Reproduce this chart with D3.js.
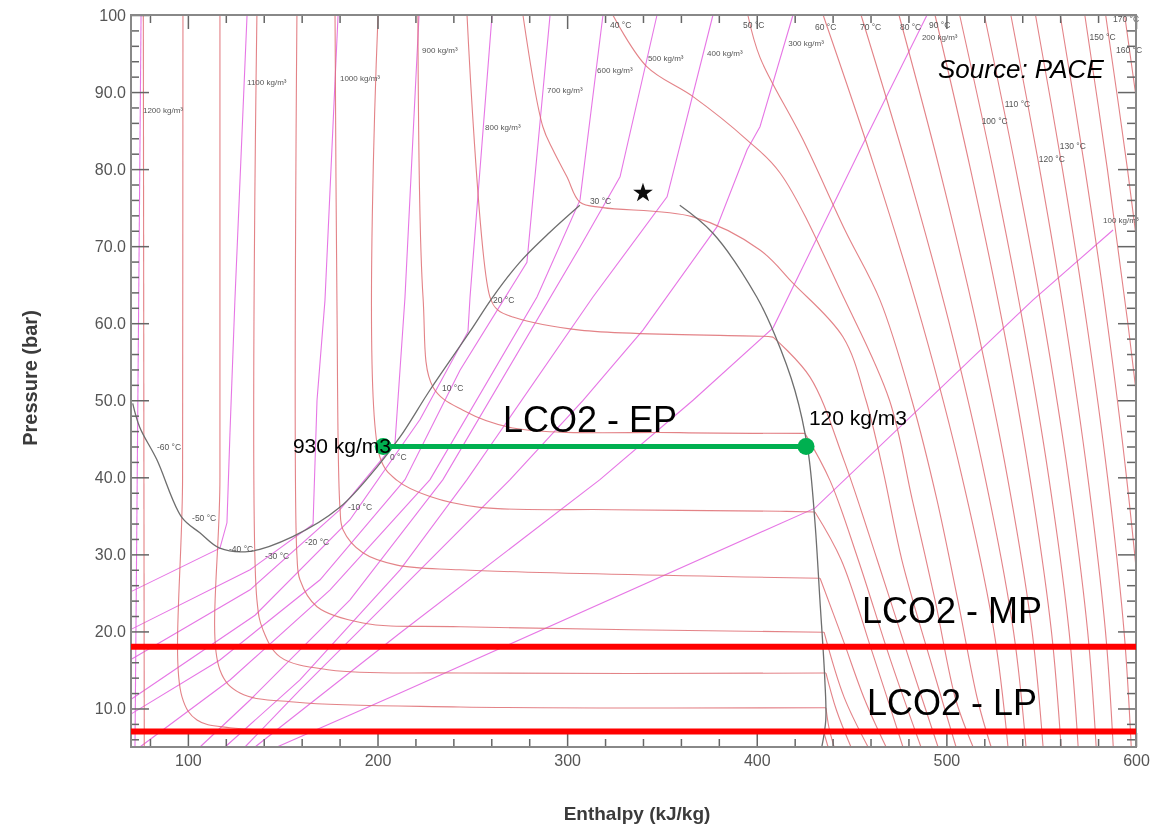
<!DOCTYPE html>
<html>
<head>
<meta charset="utf-8">
<script src="https://cdn.jsdelivr.net/npm/d3@7"></script>
<style>
  body { margin: 0; background: #fff; }
  svg { display: block; font-family: "Liberation Sans", Arial, sans-serif; }
</style>
</head>
<body>
<div id="chart"></div>
<script>
// ---- axis ticks ----
const hMajorTicks = [100, 200, 300, 400, 500, 600];
const pMajorTicks = [10, 20, 30, 40, 50, 60, 70, 80, 90, 100];

// ---- saturation curve (h kJ/kg, p bar) ----
const domeLiquid = [[70.9,49.6],[74.6,46.5],[83.6,42.3],[96.8,34.8],[106.3,32.8],[116.8,30.8],[132.7,30.4],
  [155.3,32.3],[180.1,36.1],[199.6,41.3],[211.8,45.2],[227.6,51.3],[248.7,58.9],[260.8,63.4],[275.0,67.9],
  [290.9,71.8],[306.7,75.3]];
const domeVapor = [[359.4,75.3],[376.8,71.7],[400.0,63.4],[409.5,58.5],[420.1,51.3],[427.0,43.5],[430.6,34.5],
  [433.3,24.1],[435.9,13.7],[436.4,8.5],[434.3,5.0]];
const criticalPoint = [340.0, 76.9];

// ---- isotherms ----
const coldEdge = [[76.5,100],[77.0,5]];
const lowTemps = [-50, -40, -30, -20, -10, 0, 10, 20];
const lowLiquidSide = [
  [[97.4,100],[97.2,40],[96.9,11.5],[104.8,8.5],[122.2,7.5],[211.9,7.0],[435.5,6.8]],
  [[116.9,100],[116.9,40],[116.9,15.0],[127.5,12.0],[157.5,10.8],[243.5,10.2],[436.5,10.1]],
  [[136.4,100],[136.4,24.1],[139.6,20.2],[148.6,16.7],[174.9,15.0],[243.5,14.6],[436.5,14.6]],
  [[157.5,100],[157.5,29.9],[159.1,26.7],[168.1,23.2],[192.3,21.1],[243.5,20.6],[435.5,19.9]],
  [[177.6,100],[178.6,63.0],[180.2,36.1],[181.8,33.2],[192.3,30.2],[210.3,28.6],[243.5,28.0],[433.4,26.9]],
  [[200.3,100],[201.3,42.6],[210.3,39.6],[227.7,37.5],[254.0,36.1],[324.2,35.8],[412.3,35.6],[430.7,35.5]],
  [[221.3,100],[224.0,63.4],[229.3,51.7],[245.1,48.7],[271.4,46.4],[359.5,45.8],[425.4,45.7]],
  [[247.2,100],[259.3,63.4],[263.5,61.7],[271.4,60.8],[306.8,59.1],[403.3,58.3],[408.6,58.2]]
];
const lowVaporSide = [
  [[435.5,6.8],[437.6,5]],
  [[436.5,10.1],[438.1,7.5],[440.8,5]],
  [[436.5,14.6],[442.0,9.8],[449.7,5]],
  [[435.5,19.9],[446.0,11.5],[458.7,5]],
  [[433.4,26.9],[445.5,18.9],[457.0,11.1],[468.2,5]],
  [[430.7,35.5],[444.5,29.3],[460.5,17.6],[477.1,5]],
  [[425.4,45.7],[438.6,39.6],[453.5,29.3],[470.5,16.3],[486.6,5]],
  [[408.6,58.2],[428.1,53.0],[446.0,42.2],[463.5,29.3],[480.5,16.3],[495.6,5]]
];
const midTemps = [30, 40, 50];
const midCurves = [
  [[276.7,100],[287.2,85.5],[292.5,82.5],[299.9,79.0],[306.8,75.7],[318.9,75.0],[366.4,73.8],[401.7,69.5],
   [419.1,65.2],[445.5,58.2],[457.6,50.0],[466.5,41.0],[476.5,29.3],[491.5,16.3],[505.1,5]],
  [[324.1,100],[342.0,93.3],[366.4,89.4],[394.8,83.8],[412.3,79.5],[446.5,63.0],[470.0,50.0],[482.0,37.1],
   [494.0,24.1],[505.0,11.1],[514.1,5]],
  [[395.3,100],[401.7,94.5],[424.4,83.8],[446.5,72.1],[465.0,63.0],[481.8,50.0],[495.0,37.1],[506.0,24.1],
   [516.5,11.1],[523.6,5]]
];
const hotTemps = [60, 70, 80, 90, 100, 110, 120, 130, 140, 150, 160, 170];
const hotPressures = [100, 80, 60, 40, 20, 5];
const hotEnthalpy = [
  [435.0,462.4,487.2,508.3,525.1,532.5],
  [455.0,479.4,501.5,520.4,535.4,542.0],
  [475.0,496.4,515.7,532.2,545.2,551.0],
  [494.0,512.7,529.6,544.0,555.4,560.5],
  [507.0,524.6,540.4,554.0,564.7,569.5],
  [520.0,536.6,551.6,564.4,574.5,579.0],
  [534.0,549.2,562.9,574.6,583.9,588.0],
  [547.0,561.2,574.0,585.0,593.7,597.5],
  [560.0,573.1,584.9,595.0,603.0,606.5],
  [573.0,584.9,595.7,605.0,612.3,615.5],
  [584.0,595.5,605.9,614.8,621.9,625.0],
  [594.0,605.2,615.4,624.1,631.0,634.0]
];

// ---- isochores (kg/m3) ----
const densities = [1200, 1100, 1000, 900, 800, 700, 600, 500, 400, 300, 200, 100];
const isochores = [
  [[75.3,100],[72.1,5]],
  [[131.2,100],[124.8,63.0],[122.2,45.8],[120.6,34.1],[116.9,30.8],[69.5,25.1]],
  [[179.2,100],[172.3,63.0],[168.1,50.0],[166.0,33.9],[132.8,28.0],[69.5,20.2]],
  [[221.9,100],[214.5,63.4],[209.2,44.4],[180.2,35.8],[132.8,25.4],[69.5,16.3]],
  [[260.4,100],[248.8,63.4],[247.7,58.9],[222.4,47.5],[185.5,34.5],[135.4,22.1],[69.5,11.1]],
  [[291.0,100],[278.8,67.9],[243.5,53.9],[214.5,39.7],[169.7,26.7],[116.9,16.3],[69.5,9.2]],
  [[318.9,100],[306.8,76.0],[284.1,63.4],[227.7,39.7],[175.0,25.4],[122.2,13.7],[74.7,5]],
  [[347.4,100],[327.9,79.0],[306.8,69.9],[234.5,39.7],[185.5,24.1],[132.8,11.1],[106.4,5]],
  [[376.9,100],[352.7,76.4],[313.6,63.4],[247.2,39.7],[211.9,28.0],[159.1,13.7],[119.6,5]],
  [[419.1,100],[401.7,85.5],[394.9,82.5],[379.0,72.5],[340.0,59.1],[308.4,50.0],[269.9,39.7],[211.9,25.4],
   [159.1,12.4],[130.1,5]],
  [[489.8,100],[454.5,82.5],[408.6,59.4],[366.4,50.0],[317.3,39.7],[211.9,19.8],[135.4,5]],
  [[587.9,72.1],[545.6,63.0],[430.7,36.0],[211.9,12.0],[147.0,5]]
];

// ---- small labels on the diagram: [text, h, p] ----
const tempLabels = [
  ["-60 °C",83.7,43.5],["-50 °C",102.2,34.3],["-40 °C",121.7,30.3],["-30 °C",140.7,29.4],
  ["-20 °C",161.8,31.2],["-10 °C",184.4,35.8],["0 °C",206.6,42.3],["10 °C",234.0,51.2],
  ["20 °C",260.9,62.6],["30 °C",312.0,75.5],["40 °C",322.6,98.3],["50 °C",392.8,98.3],
  ["60 °C",430.7,98.0],["70 °C",454.4,98.0],["80 °C",475.5,98.0],["90 °C",490.8,98.3],
  ["100 °C",518.6,85.9],["110 °C",530.8,88.1],["120 °C",548.7,80.9],["130 °C",559.8,82.6],
  ["150 °C",575.5,96.7],["160 °C",589.5,95.1],["170 °C",587.9,99.1]
];
const densityLabels = [
  ["1200 kg/m³",76.3,87.3],["1100 kg/m³",131.2,90.9],["1000 kg/m³",180.2,91.4],["900 kg/m³",223.5,95.1],
  ["800 kg/m³",256.7,85.1],["700 kg/m³",289.4,89.9],["600 kg/m³",315.8,92.5],["500 kg/m³",342.6,94.0],
  ["400 kg/m³",373.8,94.7],["300 kg/m³",416.6,96.0],["200 kg/m³",487.1,96.8],["100 kg/m³",582.6,73.0]
];

// ---- LCO2 pressure levels ----
const epPressure = 44;
const epEnthalpy = [203, 426];
const mpPressure = 18;
const lpPressure = 7;

// ---------------------------------------------------------------
const W = 1162, H = 835;
const x = d3.scaleLinear().domain([70, 600]).range([131, 1136]);
const y = d3.scaleLinear().domain([5, 100]).range([747, 15]);

const svg = d3.select("#chart").append("svg").attr("width", W).attr("height", H);

const defs = svg.append("defs");
defs.append("clipPath").attr("id", "plot")
  .append("rect").attr("x", 131).attr("y", 15).attr("width", 1005).attr("height", 732);
defs.append("filter").attr("id", "soft")
  .append("feGaussianBlur").attr("stdDeviation", 0.45);

const straight = d3.line().x(d => x(d[0])).y(d => y(d[1]));
const smooth = d3.line().x(d => x(d[0])).y(d => y(d[1])).curve(d3.curveCatmullRom.alpha(0.5));

const diagram = svg.append("g").attr("clip-path", "url(#plot)").attr("filter", "url(#soft)")
  .attr("fill", "none").attr("stroke-width", 1.1);

// isochores
diagram.append("g").attr("stroke", "#e25ee0").attr("stroke-opacity", 0.85)
  .selectAll("path").data(isochores).join("path").attr("d", straight);

// isotherms
const tg = diagram.append("g").attr("stroke", "#de6c72").attr("stroke-opacity", 0.85);
tg.append("path").attr("d", straight(coldEdge));
tg.selectAll(".liq").data(lowLiquidSide).join("path").attr("class", "liq").attr("d", smooth);
tg.selectAll(".vap").data(lowVaporSide).join("path").attr("class", "vap").attr("d", smooth);
tg.selectAll(".mid").data(midCurves).join("path").attr("class", "mid").attr("d", smooth);
tg.selectAll(".hot").data(hotEnthalpy).join("path").attr("class", "hot")
  .attr("d", row => smooth(row.map((h, i) => [h, hotPressures[i]])));

// saturation curve
const dg = diagram.append("g").attr("stroke", "#6e6e6e").attr("stroke-width", 1.3);
dg.append("path").attr("d", smooth(domeLiquid));
dg.append("path").attr("d", smooth(domeVapor));

// small labels
const lab = svg.append("g").attr("filter", "url(#soft)").attr("fill", "#555");
lab.selectAll(".tl").data(tempLabels).join("text").attr("class", "tl")
  .attr("x", d => x(d[1])).attr("y", d => y(d[2])).attr("font-size", 8.5).text(d => d[0]);
lab.selectAll(".dl").data(densityLabels).join("text").attr("class", "dl")
  .attr("x", d => x(d[1])).attr("y", d => y(d[2])).attr("font-size", 8).text(d => d[0]);
lab.append("path")
  .attr("transform", `translate(${x(criticalPoint[0])},${y(criticalPoint[1])})`)
  .attr("d", d3.symbol(d3.symbolStar, 120)()).attr("fill", "#111");

// axes
const axes = svg.append("g").attr("filter", "url(#soft)");
const tickStyle = g => {
  g.select(".domain").remove();
  g.selectAll("line").attr("stroke", "#666").attr("stroke-width", 1.5);
  g.selectAll("text").attr("fill", "#555").attr("font-size", 16)
    .attr("font-family", "'Liberation Sans', Arial, sans-serif");
};
const pMinor = d3.range(6, 100, 2).filter(v => v % 10 !== 0);
const hMinor = d3.range(80, 600, 20).filter(v => v % 100 !== 0);

axes.append("g").attr("transform", "translate(131,0)")
  .call(d3.axisLeft(y).tickValues(pMajorTicks).tickSizeInner(-18).tickSizeOuter(0).tickPadding(5)
    .tickFormat(d => d === 100 ? "100" : d.toFixed(1))).call(tickStyle);
axes.append("g").attr("transform", "translate(131,0)")
  .call(d3.axisLeft(y).tickValues(pMinor).tickSize(-8).tickFormat("")).call(tickStyle);
axes.append("g").attr("transform", "translate(1136,0)")
  .call(d3.axisRight(y).tickValues(pMajorTicks).tickSize(-18).tickFormat("")).call(tickStyle);
axes.append("g").attr("transform", "translate(1136,0)")
  .call(d3.axisRight(y).tickValues(pMinor).tickSize(-9).tickFormat("")).call(tickStyle);
axes.append("g").attr("transform", "translate(0,747)")
  .call(d3.axisBottom(x).tickValues(hMajorTicks).tickSizeInner(-14).tickSizeOuter(0).tickPadding(8))
  .call(tickStyle);
axes.append("g").attr("transform", "translate(0,747)")
  .call(d3.axisBottom(x).tickValues(hMinor).tickSize(-8).tickFormat("")).call(tickStyle);
axes.append("g").attr("transform", "translate(0,15)")
  .call(d3.axisTop(x).tickValues(hMajorTicks).tickSize(-14).tickFormat("")).call(tickStyle);
axes.append("g").attr("transform", "translate(0,15)")
  .call(d3.axisTop(x).tickValues(hMinor).tickSize(-8).tickFormat("")).call(tickStyle);
axes.append("rect").attr("x", 131).attr("y", 15).attr("width", 1005).attr("height", 732)
  .attr("fill", "none").attr("stroke", "#888").attr("stroke-width", 2);

axes.append("text").attr("transform", "translate(37,378) rotate(-90)").attr("text-anchor", "middle")
  .attr("font-weight", "bold").attr("font-size", 20).attr("fill", "#3a3a3a").text("Pressure (bar)");
axes.append("text").attr("x", 637).attr("y", 820).attr("text-anchor", "middle")
  .attr("font-weight", "bold").attr("font-size", 19).attr("fill", "#3a3a3a").text("Enthalpy (kJ/kg)");

// overlays
const over = svg.append("g");
over.selectAll(".lvl").data([mpPressure, lpPressure]).join("line").attr("class", "lvl")
  .attr("x1", x(70)).attr("x2", x(600)).attr("y1", d => y(d)).attr("y2", d => y(d))
  .attr("stroke", "#ff0000").attr("stroke-width", 6);
over.append("line")
  .attr("x1", x(epEnthalpy[0])).attr("x2", x(epEnthalpy[1]))
  .attr("y1", y(epPressure)).attr("y2", y(epPressure))
  .attr("stroke", "#00b050").attr("stroke-width", 5);
over.selectAll(".dot").data(epEnthalpy).join("circle").attr("class", "dot")
  .attr("cx", d => x(d)).attr("cy", y(epPressure)).attr("r", 8.5).attr("fill", "#00b050");

const big = [["LCO2 - EP", 266.2, 45.9], ["LCO2 - MP", 455.5, 21.1], ["LCO2 - LP", 458.1, 9.2]];
over.selectAll(".big").data(big).join("text").attr("class", "big")
  .attr("x", d => x(d[1])).attr("y", d => y(d[2])).attr("font-size", 36).attr("fill", "#000").text(d => d[0]);
const notes = [["930 kg/m3", 155.4, 43.2], ["120 kg/m3", 427.5, 46.8]];
over.selectAll(".note").data(notes).join("text").attr("class", "note")
  .attr("x", d => x(d[1])).attr("y", d => y(d[2])).attr("font-size", 21).attr("fill", "#000").text(d => d[0]);
over.append("text").attr("x", x(495.6)).attr("y", y(91.8)).attr("font-size", 26)
  .attr("font-style", "italic").attr("fill", "#000").text("Source: PACE");
</script>
</body>
</html>
